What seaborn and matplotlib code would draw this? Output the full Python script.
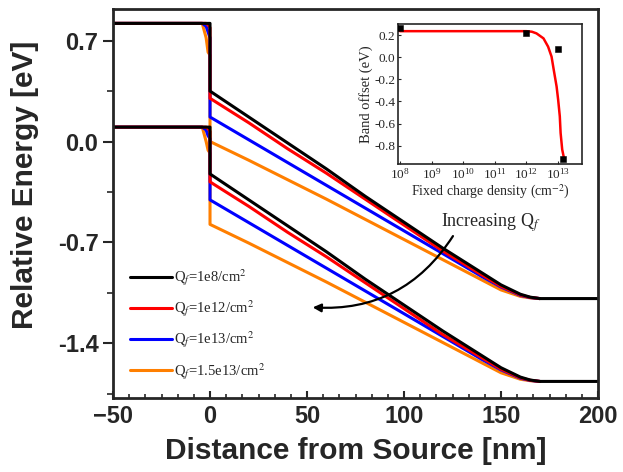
import numpy as np
import pandas as pd
import matplotlib
matplotlib.use("Agg")
import matplotlib.pyplot as plt
import matplotlib.ticker as mticker
import seaborn as sns

# -------------------------------------------------
# 1. DATA
# -------------------------------------------------
x_nm = [-50, -4, -2, -1, 0, 0, 20, 40, 60, 80, 100, 120, 140, 150, 160, 165, 170, 200]

# conduction band edge [eV]
cb_1e8 = [0.82, 0.82, 0.82, 0.82, 0.82, 0.35, 0.17, -0.01, -0.19, -0.38, -0.56, -0.74, -0.91, -0.995, -1.06, -1.08, -1.09, -1.09]
cb_1e12 = [0.82, 0.82, 0.82, 0.81, 0.79, 0.30, 0.13, -0.05, -0.22, -0.40, -0.58, -0.76, -0.925, -1.005, -1.065, -1.082, -1.09, np.nan]
cb_1e13 = [0.82, 0.82, 0.80, 0.76, 0.72, 0.17, 0.012, -0.146, -0.304, -0.462, -0.62, -0.778, -0.936, -1.01, -1.068, -1.083, -1.09, np.nan]
cb_15e13 = [0.82, 0.82, 0.72, 0.62, 0.60, 0.00, -0.13, -0.265, -0.40, -0.54, -0.68, -0.82, -0.96, -1.03, -1.075, -1.085, -1.09, np.nan]

# valence band edge [eV]
vb_1e8 = [0.10, 0.10, 0.10, 0.10, 0.10, -0.225, -0.405, -0.585, -0.765, -0.955, -1.135, -1.315, -1.485, -1.57, -1.635, -1.655, -1.665, -1.665]
vb_1e12 = [0.10, 0.10, 0.10, 0.09, 0.07, -0.28, -0.45, -0.63, -0.80, -0.98, -1.16, -1.34, -1.50, -1.58, -1.64, -1.657, -1.665, np.nan]
vb_1e13 = [0.10, 0.10, 0.08, 0.04, 0.02, -0.405, -0.563, -0.721, -0.879, -1.037, -1.195, -1.353, -1.511, -1.585, -1.643, -1.658, -1.665, np.nan]
vb_15e13 = [0.10, 0.10, 0.00, -0.06, -0.08, -0.575, -0.705, -0.84, -0.975, -1.115, -1.255, -1.395, -1.535, -1.605, -1.65, -1.66, -1.665, np.nan]

labels = ["Q$_f$=1e8/cm$^2$", "Q$_f$=1e12/cm$^2$", "Q$_f$=1e13/cm$^2$", "Q$_f$=1.5e13/cm$^2$"]
colors = ["black", "red", "blue", "#ff7f00"]

# inset: band offset vs fixed charge density
sim_q = [1e8, 1e12, 1e13, 1.5e13]
sim_off = [0.26, 0.215, 0.075, -0.92]
fit_q = [1e8, 1e12, 1.5e12, 2.1e12, 3.5e12, 4.9e12, 6.3e12, 7.4e12, 9.1e12, 1.02e13, 1.15e13, 1.22e13, 1.37e13, 1.58e13]
fit_off = [0.235, 0.235, 0.23, 0.215, 0.17, 0.095, 0.005, -0.115, -0.265, -0.385, -0.535, -0.685, -0.835, -0.92]

# -------------------------------------------------
# 2. LONG TABLE FOR SEABORN
# -------------------------------------------------
rows = []
cb_all = [cb_1e8, cb_1e12, cb_1e13, cb_15e13]
vb_all = [vb_1e8, vb_1e12, vb_1e13, vb_15e13]
for lab, cb, vb in zip(labels, cb_all, vb_all):
    for x, e in zip(x_nm, cb):
        rows.append((lab, "CB", x, e))
    for x, e in zip(x_nm, vb):
        rows.append((lab, "VB", x, e))
df = pd.DataFrame(rows, columns=["Qf", "band", "x", "E"]).dropna()

# -------------------------------------------------
# 3. PLOT
# -------------------------------------------------
sns.set_style("ticks")
plt.rcParams["font.family"] = ["Liberation Sans", "DejaVu Sans"]
plt.rcParams["mathtext.fontset"] = "stix"

fig = plt.figure(figsize=(6.23, 4.72), dpi=100)
ax = fig.add_axes([0.1814, 0.1568, 0.7785, 0.8242])

# black drawn last so it sits on top
sns.lineplot(data=df, x="x", y="E", hue="Qf", units="band", estimator=None, sort=False,
             hue_order=labels[::-1], palette=dict(zip(labels, colors)), lw=2.2, ax=ax)

ax.set_xlim(-50, 200)
ax.set_ylim(-1.78, 0.92)
ax.set_xticks([-50, 0, 50, 100, 150, 200])
ax.set_yticks([-1.4, -0.7, 0.0, 0.7])
ax.yaxis.set_major_formatter(mticker.FormatStrFormatter("%.1f"))
ax.xaxis.set_minor_locator(mticker.AutoMinorLocator(6))
ax.yaxis.set_minor_locator(mticker.AutoMinorLocator(2))
ax.tick_params(axis="x", which="major", direction="in", length=5, width=1.5, labelsize=17, pad=5)
ax.tick_params(axis="x", which="minor", direction="in", length=3, width=1.2)
ax.tick_params(axis="y", which="major", direction="out", length=7, width=1.5, labelsize=17)
ax.tick_params(axis="y", which="minor", direction="out", length=4, width=1.2)
for lab in ax.get_xticklabels() + ax.get_yticklabels():
    lab.set_fontweight("bold")
for sp in ax.spines.values():
    sp.set_linewidth(2)
    sp.set_visible(True)

ax.set_xlabel("Distance from Source [nm]", fontsize=21.5, fontweight="bold")
ax.set_ylabel("Relative Energy [eV]", fontsize=21.5, fontweight="bold")
ax.xaxis.set_label_coords(0.5, -0.10)
ax.yaxis.set_label_coords(-0.153, 0.548)

handles, labs = ax.get_legend_handles_labels()
ax.legend(handles[::-1], labs[::-1], loc="upper left", bbox_to_anchor=(0.035, 0.335),
          frameon=False, borderpad=0, borderaxespad=0, handlelength=2.9, handletextpad=0.1,
          labelspacing=0.72, prop={"family": "Liberation Serif", "size": 10.5})

ax.annotate("", xy=(51.5, -1.15), xytext=(126, -0.64),
            arrowprops=dict(arrowstyle="-|>", color="black", lw=1.6, mutation_scale=12,
                            connectionstyle="arc3,rad=-0.3"))
ax.text(145, -0.565, "Increasing Q$_f$", ha="center", va="center",
        family="Liberation Serif", fontsize=13)

# ---- inset ----
axin = fig.add_axes([0.639, 0.6515, 0.295, 0.2977])
axin.set_xscale("log")
sns.lineplot(x=fit_q, y=fit_off, color="red", lw=1.8, estimator=None, sort=False, ax=axin)
sns.scatterplot(x=sim_q, y=sim_off, marker="s", color="black", s=22, edgecolor="black",
                zorder=3, ax=axin)
axin.set_xlim(10 ** 7.94, 10 ** 13.76)
axin.set_ylim(-0.97, 0.30)
axin.xaxis.set_major_locator(mticker.FixedLocator([1e8, 1e9, 1e10, 1e11, 1e12, 1e13]))
axin.xaxis.set_minor_locator(mticker.NullLocator())
axin.set_yticks([-0.8, -0.6, -0.4, -0.2, 0.0, 0.2])
axin.yaxis.set_major_formatter(mticker.FormatStrFormatter("%.1f"))
axin.tick_params(direction="in", length=2.5, width=0.8, labelsize=9.5, pad=2)
for lab in axin.get_xticklabels() + axin.get_yticklabels():
    lab.set_family("Liberation Serif")
for sp in axin.spines.values():
    sp.set_linewidth(1.2)
axin.set_xlabel("Fixed charge density (cm$^{-2}$)", family="Liberation Serif", fontsize=10, labelpad=1)
axin.set_ylabel("Band offset (eV)", family="Liberation Serif", fontsize=10.5, labelpad=1)

fig.savefig("out.png", dpi=100)
